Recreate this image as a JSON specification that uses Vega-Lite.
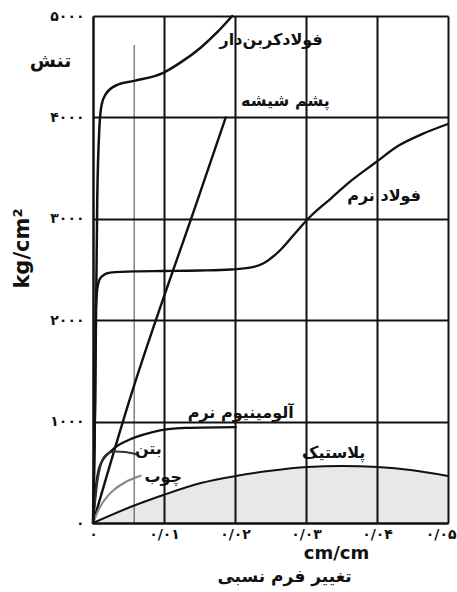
{
  "$schema": "https://vega.github.io/schema/vega-lite/v6.json",
  "width": 355,
  "height": 507,
  "autosize": "none",
  "padding": {"left": 93, "top": 16, "right": 9, "bottom": 69},
  "background": "white",
  "config": {
    "view": {"stroke": null},
    "font": "DejaVu Sans"
  },
  "datasets": {
    "curves": [
      {"series": "carbon", "x": 0, "y": 0},
      {"series": "carbon", "x": 0.0003, "y": 1200},
      {"series": "carbon", "x": 0.0006, "y": 3200},
      {"series": "carbon", "x": 0.0009, "y": 3900},
      {"series": "carbon", "x": 0.0012, "y": 4120},
      {"series": "carbon", "x": 0.0018, "y": 4230},
      {"series": "carbon", "x": 0.0034, "y": 4320},
      {"series": "carbon", "x": 0.0058, "y": 4360},
      {"series": "carbon", "x": 0.0099, "y": 4440},
      {"series": "carbon", "x": 0.0123, "y": 4540},
      {"series": "carbon", "x": 0.0152, "y": 4690},
      {"series": "carbon", "x": 0.0175, "y": 4840},
      {"series": "carbon", "x": 0.0196, "y": 5000},
      {"series": "mild", "x": 0, "y": 0},
      {"series": "mild", "x": 0.0003, "y": 1200},
      {"series": "mild", "x": 0.0004, "y": 2100},
      {"series": "mild", "x": 0.0007, "y": 2350},
      {"series": "mild", "x": 0.0012, "y": 2430},
      {"series": "mild", "x": 0.0024, "y": 2470},
      {"series": "mild", "x": 0.006, "y": 2482},
      {"series": "mild", "x": 0.0099, "y": 2485},
      {"series": "mild", "x": 0.015, "y": 2490},
      {"series": "mild", "x": 0.0194, "y": 2500},
      {"series": "mild", "x": 0.0223, "y": 2520},
      {"series": "mild", "x": 0.0241, "y": 2565},
      {"series": "mild", "x": 0.0265, "y": 2700},
      {"series": "mild", "x": 0.0285, "y": 2860},
      {"series": "mild", "x": 0.0304, "y": 3008},
      {"series": "mild", "x": 0.0335, "y": 3200},
      {"series": "mild", "x": 0.0365, "y": 3383},
      {"series": "mild", "x": 0.0397, "y": 3550},
      {"series": "mild", "x": 0.043, "y": 3720},
      {"series": "mild", "x": 0.0465, "y": 3840},
      {"series": "mild", "x": 0.05, "y": 3935},
      {"series": "glass", "x": 0, "y": 0},
      {"series": "glass", "x": 0.005, "y": 1180},
      {"series": "glass", "x": 0.0147, "y": 3180},
      {"series": "glass", "x": 0.0187, "y": 4000},
      {"series": "aluminum", "x": 0, "y": 0},
      {"series": "aluminum", "x": 0.0004, "y": 350},
      {"series": "aluminum", "x": 0.001, "y": 570},
      {"series": "aluminum", "x": 0.0027, "y": 720},
      {"series": "aluminum", "x": 0.005, "y": 818},
      {"series": "aluminum", "x": 0.0084, "y": 897},
      {"series": "aluminum", "x": 0.013, "y": 937},
      {"series": "aluminum", "x": 0.0201, "y": 945},
      {"series": "concrete", "x": 0, "y": 0},
      {"series": "concrete", "x": 0.0006, "y": 400},
      {"series": "concrete", "x": 0.0012, "y": 600},
      {"series": "concrete", "x": 0.0018, "y": 670},
      {"series": "concrete", "x": 0.0031, "y": 705},
      {"series": "concrete", "x": 0.0045, "y": 700},
      {"series": "concrete", "x": 0.006, "y": 680},
      {"series": "wood", "x": 0, "y": 0},
      {"series": "wood", "x": 0.001, "y": 160},
      {"series": "wood", "x": 0.002, "y": 260},
      {"series": "wood", "x": 0.003, "y": 330},
      {"series": "wood", "x": 0.0045, "y": 400},
      {"series": "wood", "x": 0.0067, "y": 465},
      {"series": "plastic", "x": 0, "y": 0},
      {"series": "plastic", "x": 0.005, "y": 150},
      {"series": "plastic", "x": 0.0099, "y": 276},
      {"series": "plastic", "x": 0.0152, "y": 394},
      {"series": "plastic", "x": 0.0201, "y": 463},
      {"series": "plastic", "x": 0.025, "y": 515},
      {"series": "plastic", "x": 0.0302, "y": 552},
      {"series": "plastic", "x": 0.035, "y": 562},
      {"series": "plastic", "x": 0.0401, "y": 552},
      {"series": "plastic", "x": 0.045, "y": 520},
      {"series": "plastic", "x": 0.05, "y": 463}
    ],
    "labels": [
      {"text": "فولادکربن‌دار", "x": 0.0251, "y": 4763},
      {"text": "پشم شیشه", "x": 0.0271, "y": 4162},
      {"text": "فولاد نرم", "x": 0.041, "y": 3225},
      {"text": "آلومینیوم نرم", "x": 0.0208, "y": 1085},
      {"text": "بتن", "x": 0.0078, "y": 730},
      {"text": "چوب", "x": 0.0099, "y": 454},
      {"text": "پلاستیک", "x": 0.0339, "y": 690}
    ],
    "marker": [
      {"x": 0.0058, "y": 0, "y2": 4714}
    ]
  },
  "resolve": {"scale": {"x": "independent", "y": "independent"}, "axis": {"x": "independent", "y": "independent"}},
  "layer": [
    {
      "layer": [
        {
          "data": {"name": "curves"},
          "transform": [{"filter": "datum.series == 'plastic'"}],
          "mark": {"type": "area", "color": "#e8e8e8", "interpolate": "monotone"},
          "encoding": {
            "x": {"field": "x", "type": "quantitative"},
            "y": {"field": "y", "type": "quantitative"}
          }
        },
        {
          "data": {"name": "marker"},
          "mark": {"type": "rule", "color": "#444", "strokeWidth": 1},
          "encoding": {
            "x": {"field": "x", "type": "quantitative"},
            "y": {"field": "y", "type": "quantitative"},
            "y2": {"field": "y2"}
          }
        },
        {
          "data": {"name": "curves"},
          "mark": {"type": "line", "interpolate": "monotone", "strokeCap": "round", "strokeJoin": "round"},
          "encoding": {
            "x": {
              "field": "x", "type": "quantitative",
              "scale": {"domain": [0, 0.05], "nice": false, "zero": false},
              "axis": {
                "values": [0, 0.01, 0.02, 0.03, 0.04, 0.05],
                "labelExpr": "['۰','۰/۰۱','۰/۰۲','۰/۰۳','۰/۰۴','۰/۰۵'][round(datum.value*100)]",
                "labelFont": "DejaVu Sans", "labelFontSize": 14, "labelFontWeight": "bold", "labelColor": "#111",
                "labelPadding": 4, "labelFlush": false,
                "labelAlign": {"condition": {"test": "datum.value > 0.049", "value": "right"}, "value": "center"},
                "labelOffset": {"condition": {"test": "datum.value > 0.049", "value": 8}, "value": 0},
                "ticks": false,
                "domainColor": "#111", "domainWidth": 2,
                "grid": true, "gridColor": "#111", "gridWidth": 2, "gridOpacity": 1,
                "zindex": 1,
                "title": "cm/cm",
                "titleFont": "DejaVu Sans", "titleFontSize": 18, "titleFontWeight": "bold", "titleColor": "#111",
                "titleX": 243, "titleY": 35, "titleBaseline": "alphabetic", "titleAlign": "center"
              }
            },
            "y": {
              "field": "y", "type": "quantitative",
              "scale": {"domain": [0, 5000], "nice": false},
              "axis": {
                "values": [0, 1000, 2000, 3000, 4000, 5000],
                "labelExpr": "['۰','۱۰۰۰','۲۰۰۰','۳۰۰۰','۴۰۰۰','۵۰۰۰'][round(datum.value/1000)]",
                "labelFont": "DejaVu Sans", "labelFontSize": 14, "labelFontWeight": "bold", "labelColor": "#111",
                "labelPadding": 9, "labelFlush": false,
                "ticks": false,
                "domainColor": "#111", "domainWidth": 2,
                "grid": true, "gridColor": "#111", "gridWidth": 2, "gridOpacity": 1,
                "zindex": 1,
                "title": "kg/cm²",
                "titleFont": "DejaVu Sans", "titleFontSize": 21, "titleFontWeight": "bold", "titleColor": "#111",
                "titleX": -71, "titleY": 232, "titleBaseline": "middle", "titleAlign": "center", "titleAngle": -90
              }
            },
            "detail": {"field": "series"},
            "color": {
              "field": "series", "type": "nominal", "legend": null,
              "scale": {"domain": ["carbon", "glass", "mild", "aluminum", "concrete", "wood", "plastic"],
                        "range": ["#111", "#111", "#111", "#111", "#333", "#888", "#111"]}
            },
            "strokeWidth": {
              "field": "series", "type": "nominal", "legend": null,
              "scale": {"domain": ["carbon", "glass", "mild", "aluminum", "concrete", "wood", "plastic"],
                        "range": [2.5, 2, 2.5, 2.5, 2, 2, 3]}
            }
          }
        },
        {
          "data": {"name": "labels"},
          "mark": {"type": "text", "font": "DejaVu Sans", "fontSize": 16, "fontWeight": "bold", "color": "#111", "align": "center", "baseline": "middle"},
          "encoding": {
            "x": {"field": "x", "type": "quantitative"},
            "y": {"field": "y", "type": "quantitative"},
            "text": {"field": "text"}
          }
        }
      ]
    },
    {
      "data": {"name": "marker"},
      "mark": {"type": "point", "opacity": 0},
      "encoding": {
        "x": {
          "field": "x", "type": "quantitative",
          "scale": {"domain": [0, 0.05], "nice": false},
          "axis": {
            "orient": "top", "labels": false, "ticks": false, "domain": false, "grid": false,
            "title": "تغییر فرم نسبی",
            "titleFont": "DejaVu Sans", "titleFontSize": 17, "titleFontWeight": "bold", "titleColor": "#111",
            "titleX": 191, "titleY": 560, "titleBaseline": "middle", "titleAlign": "center"
          }
        },
        "y": {
          "field": "y2", "type": "quantitative",
          "scale": {"domain": [0, 5000], "nice": false},
          "axis": {
            "orient": "right", "labels": false, "ticks": false, "domain": false, "grid": false,
            "title": "تنش",
            "titleFont": "DejaVu Sans", "titleFontSize": 19, "titleFontWeight": "bold", "titleColor": "#111",
            "titleX": -398, "titleY": 44, "titleBaseline": "middle", "titleAlign": "center", "titleAngle": 0
          }
        }
      }
    }
  ]
}
